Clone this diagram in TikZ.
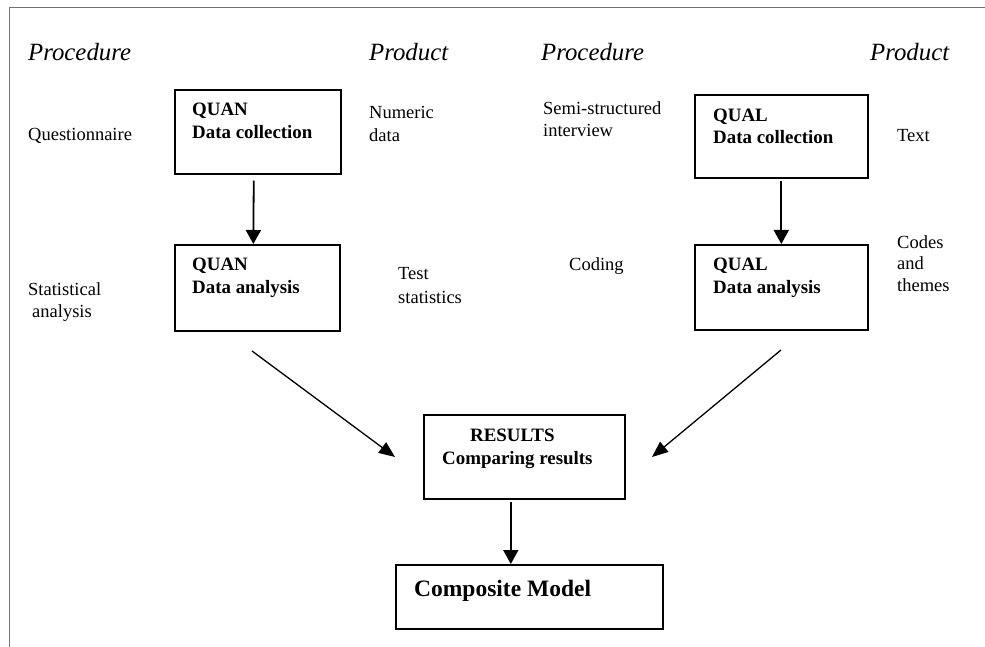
\documentclass[tikz,border=0pt]{standalone}
\usepackage{fontspec}
\setmainfont{Liberation Serif}
\usetikzlibrary{arrows.meta}
\newcommand{\mylines}[1]{\begin{tabular}[t]{@{}l@{}}#1\end{tabular}}
\begin{document}
\begin{tikzpicture}[x=1pt,y=-1pt,
  txt/.style={font=\fontsize{18.5}{22.5}\selectfont, inner sep=0pt, anchor=base west},
  head/.style={font=\itshape\fontsize{24.8}{28}\selectfont, inner sep=0pt, anchor=base west},
  boxtitle/.style={font=\bfseries\fontsize{18.9}{23}\selectfont, inner sep=0pt, anchor=base west},
  box/.style={draw, line width=1.6pt, anchor=north west, inner sep=0pt},
  arr/.style={line width=1.8pt, -{Triangle[width=15pt,length=14pt]}},
  diag/.style={line width=1.3pt, -{Triangle[width=13pt,length=16pt]}},
  frame/.style={draw=black!55, line width=1.3pt}
]
\useasboundingbox (0,0) rectangle (985,647);
\coordinate (fr1) at (985,7.3);
\coordinate (fr2) at (9.3,7.3);
\coordinate (fr3) at (9.3,647);
\draw[frame] (fr1) -- (fr2) -- (fr3);

% headers
\node[head] (proc1) at (28,61) {Procedure};
\node[head] (prod1) at (369,61) {Product};
\node[head] (proc2) at (541,61) {Procedure};
\node[head] (prod2) at (870,61) {Product};

% boxes
\node[box, minimum width=166, minimum height=84] (quancol) at (174,89) {};
\node[box, minimum width=165, minimum height=86] (quanana) at (174,244) {};
\node[box, minimum width=173, minimum height=83] (qualcol) at (694,94) {};
\node[box, minimum width=173, minimum height=85] (qualana) at (694,244) {};
\node[box, minimum width=201, minimum height=84] (results) at (423,414) {};
\node[box, minimum width=267, minimum height=64] (comp) at (395,564) {};

% box texts
\node[boxtitle] (quancolt) at (192,116) {\mylines{QUAN\\Data collection}};
\node[boxtitle] (quananat) at (192,270) {\mylines{QUAN\\Data analysis}};
\node[boxtitle, font=\bfseries\fontsize{18.9}{21.5}\selectfont] (qualcolt) at (713,122) {\mylines{QUAL\\Data collection}};
\node[boxtitle] (qualanat) at (713,270) {\mylines{QUAL\\Data analysis}};
\node[boxtitle] (resultst) at (442,441) {\mylines{\hspace{28pt}RESULTS\\Comparing results}};
\node[font=\bfseries\fontsize{23.5}{27}\selectfont, inner sep=0pt, anchor=base west] (compt) at (414,596) {Composite Model};

% side texts
\node[txt] (questionnaire) at (28,141) {Questionnaire};
\node[txt, font=\fontsize{18.5}{23}\selectfont] (numeric) at (369,119) {\mylines{Numeric\\data}};
\node[txt] (statistical) at (28,295) {\mylines{Statistical\\\hspace{4pt}analysis}};
\node[txt, font=\fontsize{18.5}{24}\selectfont] (teststat) at (398,279) {\mylines{Test\\statistics}};
\node[txt, font=\fontsize{18.5}{22}\selectfont] (semi) at (543,115) {\mylines{Semi-structured\\interview}};
\node[txt] (textprod) at (897,142) {Text};
\node[txt] (coding) at (569,270) {Coding};
\node[txt, font=\fontsize{18.5}{21.5}\selectfont] (codes) at (897,248) {\mylines{Codes\\and\\themes}};

% connectors
\draw[arr, shorten <=6pt] ([xshift=-4]quancol.south) -- ([xshift=-4]quanana.north);
\draw[arr, shorten <=2pt] (qualcol.south) -- (qualana.north);
\draw[arr, shorten <=2pt] ([xshift=-13.5]results.south) -- ([xshift=-18.5]comp.north);
\coordinate (d1s) at (252,351);
\coordinate (d1e) at (395,457);
\coordinate (d2s) at (781,350);
\coordinate (d2e) at (652,457);
\draw[diag] (d1s) -- (d1e);
\draw[diag] (d2s) -- (d2e);
\end{tikzpicture}
\end{document}
